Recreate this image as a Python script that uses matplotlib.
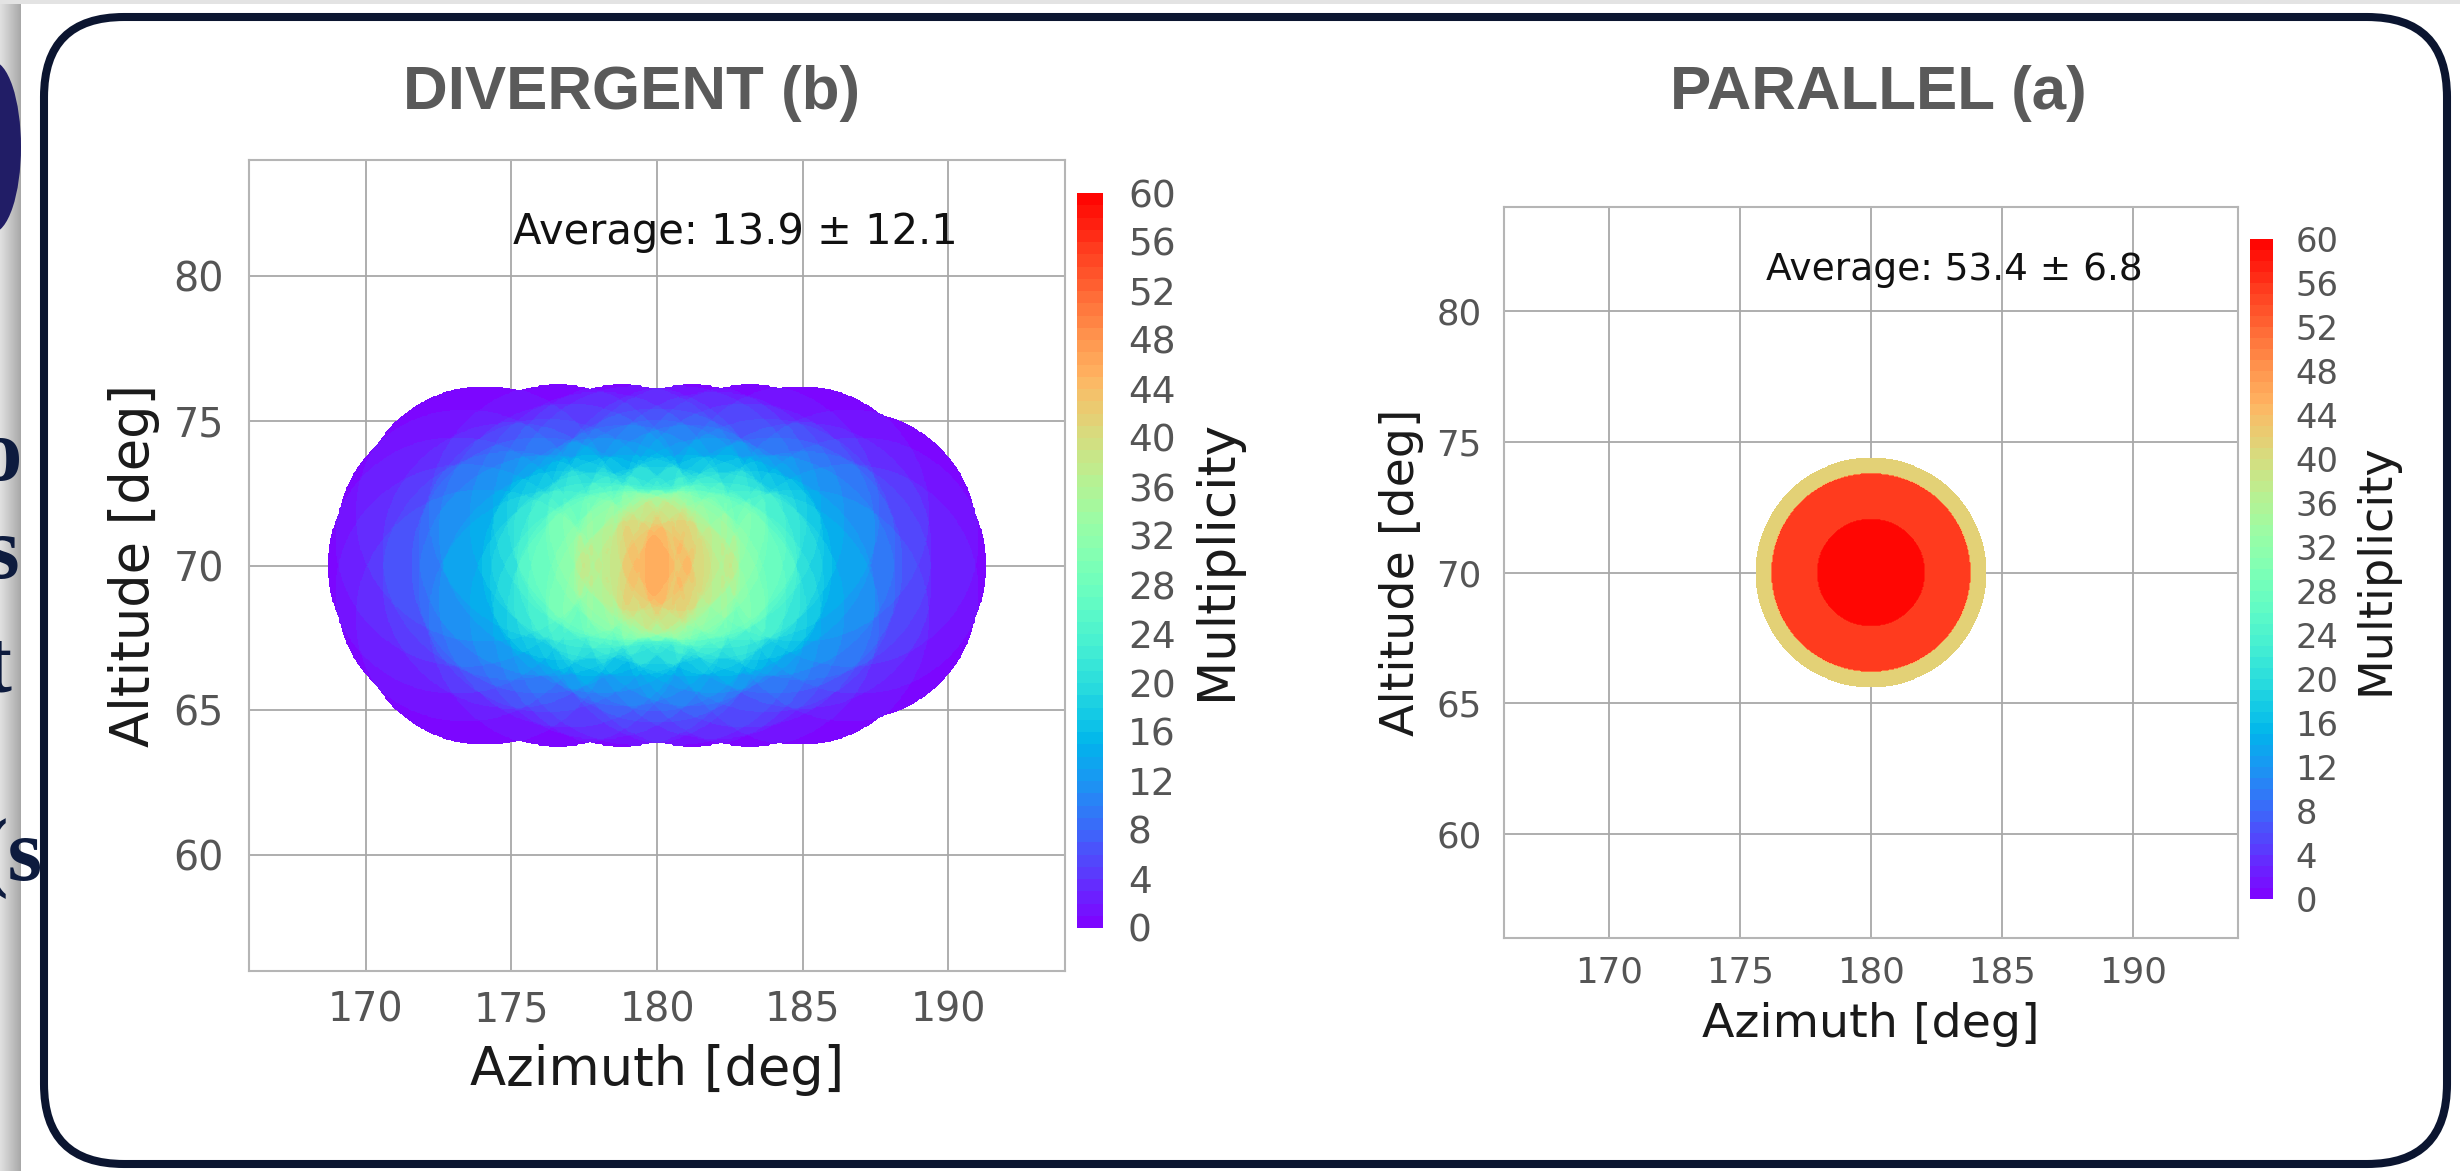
import numpy as np
import matplotlib
matplotlib.use("Agg")
import matplotlib.pyplot as plt
from matplotlib.patches import FancyBboxPatch, Rectangle, Ellipse

# ---------------- data ----------------
center_az = 180.0
center_alt = 70.0
# field-of-view radius (deg) of each telescope type
fov_lst, fov_mst, fov_sst = 2.03, 3.78, 4.4

# divergent pointing offsets (deg) relative to the array centre
lst_daz = [-0.8, 0.8, -0.8, 0.8]
lst_dalt = [0.5, 0.5, -0.5, -0.5]
mst_daz = [2.2, 1.91, 1.1, 0.0, -1.1, -1.91, -2.2, -1.91, -1.1, 0.0, 1.1, 1.91, -1.0, 1.0]
mst_dalt = [0.0, 0.6, 1.04, 1.2, 1.04, 0.6, 0.0, -0.6, -1.04, -1.2, -1.04, -0.6, 0.0, 0.0]
sst_daz = [4.0, 3.76, 3.06, 2.0, 0.70, -0.70, -2.0, -3.06, -3.76,
           -4.0, -3.76, -3.06, -2.0, -0.70, 0.70, 2.0, 3.06, 3.76,
           -5.9, -3.4, -1.2, 1.2, 3.2, 4.9,
           -5.9, -3.4, -1.2, 1.2, 3.2, 4.9,
           -6.9, -6.6, -6.6, 6.9, 6.6, 6.6,
           -5.0, -5.0, 5.0, 5.0, 0.0, 0.0]
sst_dalt = [0.0, 0.62, 1.16, 1.56, 1.77, 1.77, 1.56, 1.16, 0.62,
            0.0, -0.62, -1.16, -1.56, -1.77, -1.77, -1.56, -1.16, -0.62,
            1.8, 1.85, 1.85, 1.85, 1.85, 1.8,
            -1.8, -1.85, -1.85, -1.85, -1.85, -1.8,
            0.0, 0.95, -0.95, 0.0, 0.95, -0.95,
            0.5, -0.5, 0.5, -0.5, 1.0, -1.0]

titles = ["DIVERGENT (b)", "PARALLEL (a)"]
avg_texts = ["Average: 13.9 \u00b1 12.1", "Average: 53.4 \u00b1 6.8"]
x_ticks = [170, 175, 180, 185, 190]
y_ticks = [60, 65, 70, 75, 80]
cbar_ticks = list(range(0, 61, 4))
x_range = (166, 194)
y_range = (56, 84)

# ---------------- multiplicity maps ----------------
az = np.linspace(x_range[0], x_range[1], 701)
alt = np.linspace(y_range[0], y_range[1], 701)
AZ, ALT = np.meshgrid(az, alt)


def multiplicity(daz_list, dalt_list, radii):
    m = np.zeros_like(AZ)
    for da, dh, r in zip(daz_list, dalt_list, radii):
        m += ((AZ - (center_az + da)) ** 2 + (ALT - (center_alt + dh)) ** 2) <= r ** 2
    return np.ma.masked_equal(m, 0)

div_daz = lst_daz + mst_daz + sst_daz
div_dalt = lst_dalt + mst_dalt + sst_dalt
radii = [fov_lst] * len(lst_daz) + [fov_mst] * len(mst_daz) + [fov_sst] * len(sst_daz)
M_div = multiplicity(div_daz, div_dalt, radii)
M_par = multiplicity([0.0] * len(radii), [0.0] * len(radii), radii)

levels = np.arange(0, 61, 1)

# ---------------- figure ----------------
W, H = 2460, 1171
fig = plt.figure(figsize=(W / 100, H / 100), dpi=100)
fig.patch.set_facecolor("white")


def rect(x0, y0, x1, y1):
    return [x0 / W, 1 - y1 / H, (x1 - x0) / W, (y1 - y0) / H]

# slide background
bg = fig.add_axes([0, 0, 1, 1])
bg.axis("off")
grad = np.linspace(0.88, 0.66, 40)[None, :].repeat(2, axis=0)
bg.imshow(grad, cmap="gray", vmin=0, vmax=1, extent=(0, 21, H, 0), aspect="auto")
bg.set_xlim(0, W)
bg.set_ylim(H, 0)
bg.add_patch(Rectangle((0, 0), W, 4, color="#e3e3e3", lw=0))
clip = Rectangle((0, 0), 21, H, transform=bg.transData)
blob = Ellipse((-8, 147), 58, 172, color="#211d66", lw=0)
blob.set_clip_path(clip)
bg.add_patch(blob)
for txt, x, y in [("o", 0, 480), ("s", 2, 578), ("rt", -22, 690), ("(s", 10, 880)]:
    t = bg.text(x, y, txt, fontsize=64, fontweight="bold", family="Liberation Serif",
                color="#0d1b3e", ha="center", va="baseline")
    t.set_clip_path(clip)
frame = FancyBboxPatch((44, 17), 2403, 1147, boxstyle="round,pad=0,rounding_size=80",
                       lw=5.8, ec="#0b1530", fc="none")
bg.add_patch(frame)

# titles
fig.text(632 / W, 1 - 109 / H, titles[0], ha="center", va="baseline", fontsize=44.6,
         fontweight="bold", family="Liberation Sans", color="#5a5a5a")
fig.text(1878 / W, 1 - 109 / H, titles[1], ha="center", va="baseline", fontsize=44.6,
         fontweight="bold", family="Liberation Sans", color="#5a5a5a")

panels = [
    dict(M=M_div, ax=rect(249, 160, 1065, 971), cax=rect(1077, 193, 1103, 928), s=1.0,
         txt=(175.05, 81.5)),
    dict(M=M_par, ax=rect(1504, 207, 2238, 938), cax=rect(2250, 239, 2273, 899), s=0.9,
         txt=(176.0, 81.6)),
]

for i, p in enumerate(panels):
    s = p["s"]
    ax = fig.add_axes(p["ax"])
    ax.set_facecolor("white")
    cs = ax.contourf(AZ, ALT, p["M"], levels=levels, cmap="rainbow", vmin=0, vmax=60)
    ax.set_xlim(*x_range)
    ax.set_ylim(*y_range)
    ax.set_xticks(x_ticks)
    ax.set_yticks(y_ticks)
    ax.set_axisbelow(True)
    ax.grid(True, color="#a8a8a8", lw=1.3)
    for sp in ax.spines.values():
        sp.set_color("#b5b5b5")
        sp.set_linewidth(1.5)
    ax.tick_params(axis="both", length=0, labelsize=28.5 * s, labelcolor="#555555")
    ax.tick_params(axis="x", pad=14 * s)
    ax.tick_params(axis="y", pad=18 * s)
    ax.set_xlabel("Azimuth [deg]", fontsize=38 * s, color="#1a1a1a", labelpad=10 * s)
    ax.set_ylabel("Altitude [deg]", fontsize=38 * s, color="#1a1a1a", labelpad=10 * s)
    ax.text(p["txt"][0], p["txt"][1], avg_texts[i], fontsize=30 * s, color="#111111",
            ha="left", va="center")

    cax = fig.add_axes(p["cax"])
    cb = fig.colorbar(cs, cax=cax, ticks=cbar_ticks)
    cb.outline.set_visible(False)
    cax.tick_params(length=0, labelsize=27 * s, labelcolor="#555555", pad=18 * s)
    cb.set_label("Multiplicity", fontsize=37 * s, color="#1a1a1a", labelpad=12 * s)

fig.savefig("out.png", dpi=100, facecolor="white")
